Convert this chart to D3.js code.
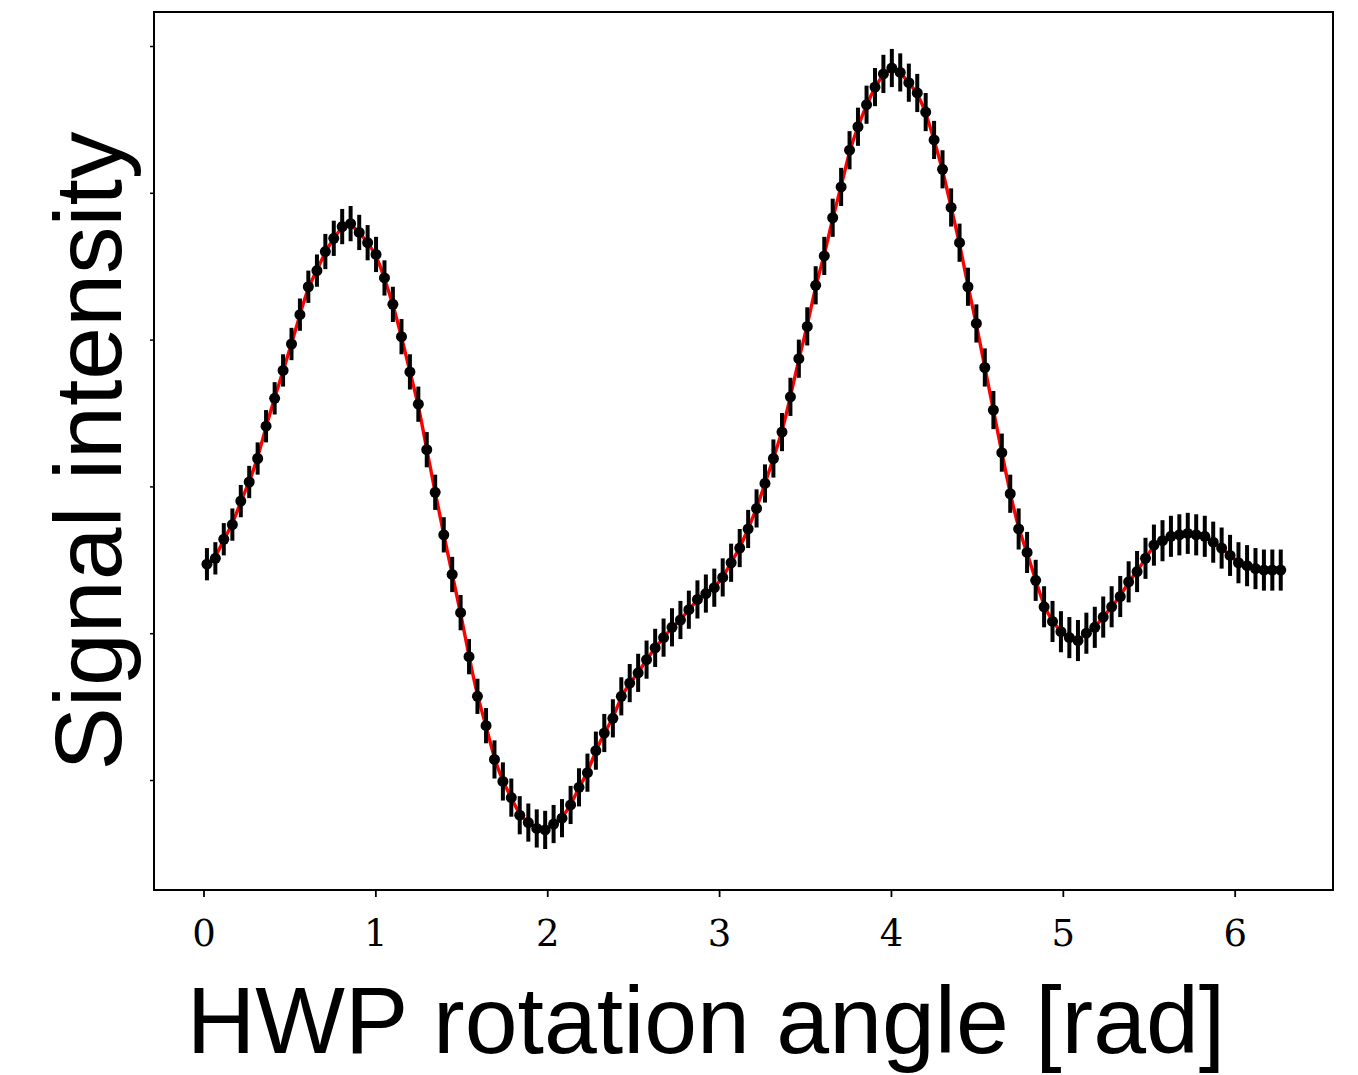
<!DOCTYPE html>
<html>
<head>
<meta charset="utf-8">
<script src="https://cdn.jsdelivr.net/npm/d3@7"></script>
<style>
  html, body { margin: 0; padding: 0; background: #fff; }
  svg { display: block; }
</style>
</head>
<body>
<svg id="chart" width="1358" height="1075"></svg>
<script>
// HWP rotation angles [rad]
const angles = [
  0.020, 0.069, 0.118, 0.168, 0.217, 0.266, 0.315, 0.364, 0.414, 0.463,
  0.512, 0.561, 0.610, 0.660, 0.709, 0.758, 0.807, 0.856, 0.906, 0.955,
  1.004, 1.053, 1.102, 1.152, 1.201, 1.250, 1.299, 1.348, 1.398, 1.447,
  1.496, 1.545, 1.594, 1.644, 1.693, 1.742, 1.791, 1.840, 1.890, 1.939,
  1.988, 2.037, 2.086, 2.136, 2.185, 2.234, 2.283, 2.332, 2.382, 2.431,
  2.480, 2.529, 2.578, 2.628, 2.677, 2.726, 2.775, 2.824, 2.874, 2.923,
  2.972, 3.021, 3.070, 3.120, 3.169, 3.218, 3.267, 3.316, 3.366, 3.415,
  3.464, 3.513, 3.562, 3.612, 3.661, 3.710, 3.759, 3.808, 3.858, 3.907,
  3.956, 4.005, 4.054, 4.104, 4.153, 4.202, 4.251, 4.300, 4.350, 4.399,
  4.448, 4.497, 4.546, 4.596, 4.645, 4.694, 4.743, 4.792, 4.842, 4.891,
  4.940, 4.989, 5.038, 5.088, 5.137, 5.186, 5.235, 5.284, 5.334, 5.383,
  5.432, 5.481, 5.530, 5.580, 5.629, 5.678, 5.727, 5.776, 5.826, 5.875,
  5.924, 5.973, 6.022, 6.072, 6.121, 6.170, 6.219, 6.268
];

// measured signal (arbitrary units)
const signal = [
  2.47, 2.51, 2.64, 2.74, 2.90, 3.03, 3.19, 3.41, 3.60, 3.79,
  3.97, 4.17, 4.36, 4.47, 4.60, 4.69, 4.77, 4.79, 4.73, 4.66,
  4.58, 4.42, 4.24, 4.02, 3.78, 3.56, 3.25, 2.96, 2.67, 2.40,
  2.14, 1.84, 1.57, 1.37, 1.14, 0.99, 0.88, 0.76, 0.71, 0.67,
  0.66, 0.70, 0.74, 0.83, 0.95, 1.05, 1.20, 1.32, 1.42, 1.57,
  1.66, 1.73, 1.82, 1.90, 1.97, 2.04, 2.09, 2.16, 2.23, 2.27,
  2.31, 2.38, 2.48, 2.58, 2.71, 2.85, 3.02, 3.19, 3.37, 3.61,
  3.87, 4.09, 4.37, 4.57, 4.83, 5.04, 5.29, 5.45, 5.60, 5.72,
  5.81, 5.85, 5.82, 5.75, 5.68, 5.55, 5.36, 5.16, 4.90, 4.66,
  4.36, 4.11, 3.81, 3.52, 3.23, 2.95, 2.71, 2.55, 2.36, 2.18,
  2.08, 2.01, 1.97, 1.95, 2.00, 2.04, 2.11, 2.18, 2.25, 2.35,
  2.42, 2.51, 2.60, 2.63, 2.66, 2.67, 2.68, 2.67, 2.66, 2.62,
  2.58, 2.53, 2.48, 2.46, 2.44, 2.43, 2.43, 2.43
];

// error bar half-lengths
const errors = [
  0.11, 0.11, 0.11, 0.11, 0.11, 0.11, 0.11, 0.11, 0.11, 0.11,
  0.11, 0.11, 0.11, 0.11, 0.12, 0.12, 0.12, 0.12, 0.12, 0.12,
  0.12, 0.12, 0.12, 0.12, 0.12, 0.12, 0.12, 0.12, 0.12, 0.12,
  0.12, 0.12, 0.12, 0.12, 0.13, 0.13, 0.13, 0.13, 0.13, 0.13,
  0.13, 0.13, 0.13, 0.13, 0.13, 0.13, 0.13, 0.13, 0.13, 0.13,
  0.13, 0.13, 0.13, 0.13, 0.13, 0.13, 0.13, 0.13, 0.13, 0.13,
  0.13, 0.13, 0.13, 0.13, 0.13, 0.13, 0.13, 0.13, 0.13, 0.13,
  0.13, 0.13, 0.13, 0.13, 0.13, 0.13, 0.13, 0.13, 0.13, 0.13,
  0.13, 0.13, 0.13, 0.13, 0.13, 0.13, 0.13, 0.13, 0.13, 0.13,
  0.13, 0.13, 0.13, 0.13, 0.13, 0.13, 0.14, 0.14, 0.14, 0.14,
  0.14, 0.14, 0.14, 0.14, 0.14, 0.14, 0.14, 0.14, 0.14, 0.14,
  0.14, 0.14, 0.14, 0.14, 0.14, 0.14, 0.14, 0.14, 0.14, 0.14,
  0.14, 0.14, 0.14, 0.14, 0.14, 0.14, 0.14, 0.14
];

const xTicks = [0, 1, 2, 3, 4, 5, 6];
const yTicks = [1, 2, 3, 4, 5, 6];

const plot = { left: 154, right: 1333, top: 12, bottom: 890 };

const data = angles.map((a, i) => ({ a, v: signal[i], e: errors[i] }));

const svg = d3.select('#chart');

const x = d3.scaleLinear().domain([-0.288, 6.572]).range([plot.left, plot.right]);
const y = d3.scaleLinear().domain([0.2507, 6.2316]).range([plot.bottom, plot.top]);

// --- fit curve (red), under the error bars
const fitLine = d3.line()
    .x(d => x(d.a))
    .y(d => y(d.v))
    .curve(d3.curveBasis);

svg.append('path')
    .datum(data)
    .attr('fill', 'none')
    .attr('stroke', '#ff0000')
    .attr('stroke-width', 3.4)
    .attr('d', fitLine);

// --- error bars
svg.append('g').selectAll('line')
    .data(data)
    .join('line')
    .attr('x1', d => x(d.a)).attr('x2', d => x(d.a))
    .attr('y1', d => y(d.v - d.e)).attr('y2', d => y(d.v + d.e))
    .attr('stroke', '#000')
    .attr('stroke-width', 4);

// --- data points
svg.append('g').selectAll('circle')
    .data(data)
    .join('circle')
    .attr('cx', d => x(d.a))
    .attr('cy', d => y(d.v))
    .attr('r', 5.5)
    .attr('fill', '#000');

// --- axes
const xAxis = svg.append('g')
    .attr('transform', `translate(0,${plot.bottom})`)
    .call(d3.axisBottom(x).tickValues(xTicks).tickSize(7).tickPadding(23).tickFormat(d3.format('d')));
xAxis.select('.domain').remove();
xAxis.selectAll('.tick line').attr('stroke', '#000').attr('stroke-width', 1.8);
xAxis.selectAll('.tick text')
    .attr('fill', '#000')
    .style('font-family', "'DejaVu Serif', serif")
    .style('font-size', '37px');

const yAxis = svg.append('g')
    .attr('transform', `translate(${plot.left},0)`)
    .call(d3.axisLeft(y).tickValues(yTicks).tickSize(4).tickFormat(''));
yAxis.select('.domain').remove();
yAxis.selectAll('.tick line').attr('stroke', '#000').attr('stroke-width', 1.5);

// frame
svg.append('rect')
    .attr('x', plot.left).attr('y', plot.top)
    .attr('width', plot.right - plot.left)
    .attr('height', plot.bottom - plot.top)
    .attr('fill', 'none')
    .attr('stroke', '#000')
    .attr('stroke-width', 2);

// axis labels
svg.append('text')
    .attr('x', 706).attr('y', 1053)
    .attr('text-anchor', 'middle')
    .style('font-family', "'Liberation Sans', Arial, sans-serif")
    .style('font-size', '95px')
    .attr('fill', '#000')
    .text('HWP rotation angle [rad]');

svg.append('text')
    .attr('transform', 'translate(121,451) rotate(-90)')
    .attr('text-anchor', 'middle')
    .style('font-family', "'Liberation Sans', Arial, sans-serif")
    .style('font-size', '95px')
    .attr('fill', '#000')
    .text('Signal intensity');
</script>
</body>
</html>
